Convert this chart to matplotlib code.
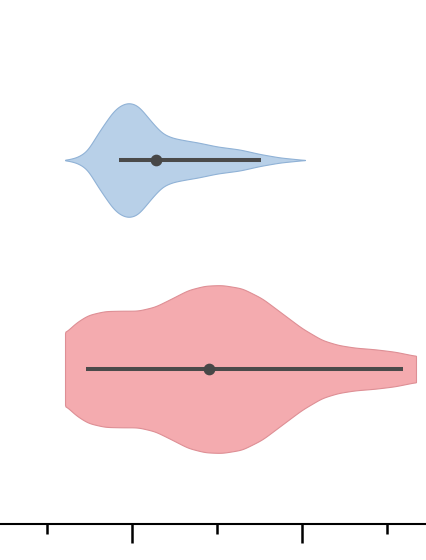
import numpy as np
import matplotlib
matplotlib.use("Agg")
import matplotlib.pyplot as plt
from matplotlib.ticker import MultipleLocator

# ---- data ----
categories = ["A", "B"]

# density profile of group A (blue): value grid and relative density
a_values = [12.12, 13.53, 14.71, 15.41, 16.24, 17.06, 17.76, 18.59, 19.53,
            20.59, 21.29, 22.12, 22.94, 23.65, 24.82, 26.47, 27.65, 30.0,
            32.71, 35.06, 37.41, 40.35]
a_density = [0.0, 0.032, 0.104, 0.223, 0.357, 0.476, 0.580, 0.651, 0.687,
             0.658, 0.580, 0.476, 0.381, 0.310, 0.262, 0.230, 0.211, 0.161,
             0.125, 0.071, 0.030, 0.0]
a_low, a_median, a_high = 18.47, 22.82, 35.18

# density profile of group B (red)
b_values = [12.12, 13.29, 14.82, 16.82, 18.82, 20.71, 22.71, 24.71, 26.59,
            28.59, 30.59, 32.94, 35.29, 37.65, 40.0, 42.35, 44.24, 46.24,
            48.59, 50.94, 53.41]
b_density = [0.425, 0.544, 0.643, 0.690, 0.694, 0.694, 0.742, 0.842, 0.940,
             0.992, 1.0, 0.961, 0.842, 0.663, 0.485, 0.345, 0.286, 0.254,
             0.235, 0.206, 0.155]
b_low, b_median, b_high = 14.55, 29.09, 51.88

major_ticks_step = 20
minor_ticks_step = 10


def outline(xs, ys, sigma=0.45, n=800):
    """Render a smooth outline through the read density profile."""
    xs = np.asarray(xs, float)
    ys = np.asarray(ys, float)
    grid = np.linspace(xs[0], xs[-1], n)
    d = np.interp(grid, xs, ys)
    step = grid[1] - grid[0]
    k = int(np.ceil(3 * sigma / step))
    kern = np.exp(-0.5 * (np.arange(-k, k + 1) * step / sigma) ** 2)
    kern /= kern.sum()
    padded = np.concatenate([np.full(k, d[0]), d, np.full(k, d[-1])])
    sm = np.convolve(padded, kern, mode="valid")
    sm[0], sm[-1] = d[0], d[-1]
    return grid, np.clip(sm, 0, None)


fig = plt.figure(figsize=(4.26, 5.6), dpi=100)
ax = fig.add_axes([0.0, 36 / 560, 1.0, 524 / 560])

half_width = 0.402
groups = [
    (a_values, a_density, a_low, a_median, a_high, "#b8d0e8", "#90b2d6"),
    (b_values, b_density, b_low, b_median, b_high, "#f4abaf", "#de8f95"),
]
for pos, (vals, dens, lo, med, hi, fc, ec) in enumerate(groups):
    xs, ds = outline(vals, dens)
    ax.fill_between(xs, pos - ds * half_width, pos + ds * half_width,
                    facecolor=fc, edgecolor=ec, linewidth=0.8, zorder=1)
    ax.hlines(pos, lo, hi, color="#4a4a4a", linewidth=2.9, zorder=2)
    ax.scatter([med], [pos], s=55, color="#474747", zorder=3)

ax.set_xlim(20 - 132 / 8.5, 20 + 294 / 8.5)
ax.set_ylim(1.7416, -0.7656)

for s in ("top", "right", "left"):
    ax.spines[s].set_visible(False)
ax.spines["bottom"].set_linewidth(1.5)
ax.spines["bottom"].set_color("black")
ax.set_yticks([])
ax.xaxis.set_major_locator(MultipleLocator(major_ticks_step))
ax.xaxis.set_minor_locator(MultipleLocator(minor_ticks_step))
ax.tick_params(axis="x", which="major", length=13.5, width=1.8,
               direction="out", labelbottom=False, color="black")
ax.tick_params(axis="x", which="minor", length=7, width=1.8,
               direction="out", color="black")
ax.patch.set_alpha(0)

fig.savefig("out.png", dpi=100)
